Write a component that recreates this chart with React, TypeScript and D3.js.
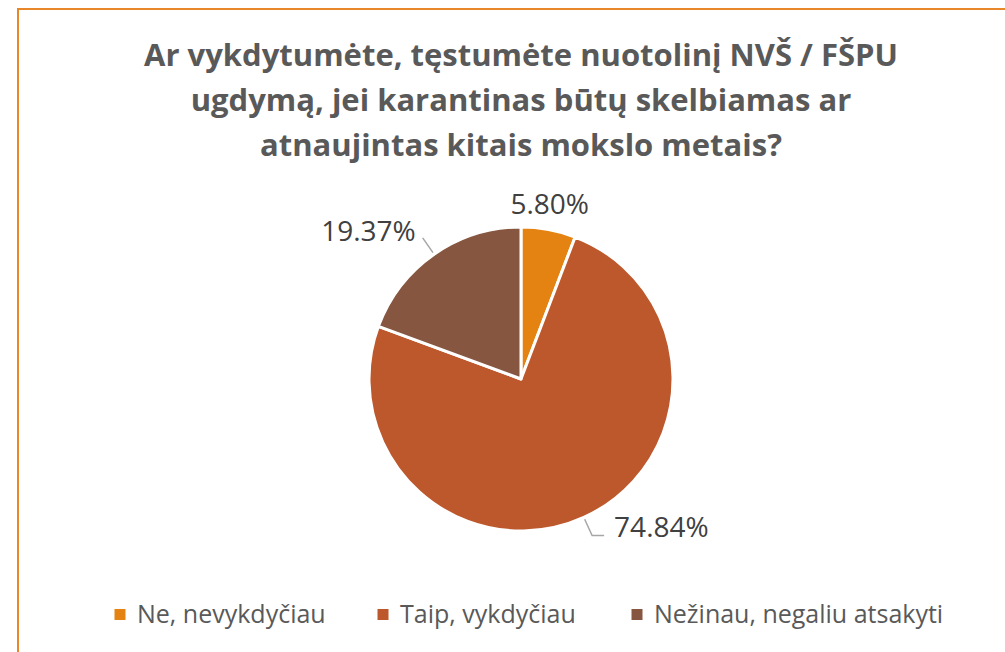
import React from 'react';
import * as d3 from 'd3';

const categories = ['Ne, nevykdyčiau', 'Taip, vykdyčiau', 'Nežinau, negaliu atsakyti'];
const shares = [5.80, 74.84, 19.37];
const colors = ['#E48312', '#BD582C', '#865640'];
const titleLines = [
  'Ar vykdytumėte, tęstumėte nuotolinį NVŠ / FŠPU',
  'ugdymą, jei karantinas būtų skelbiamas ar',
  'atnaujintas kitais mokslo metais?'
];

// label placement around the pie (angle offset in rad from the slice middle, distance from centre)
const labelLayout = [
  { da: -0.02, dist: 178 },
  { da: 0.0, dist: 212 },
  { da: -0.38, dist: 210 }
];

const width = 1005;
const height = 652;
const cx = 521;
const cy = 379;
const radius = 152;
const font = '"Open Sans", sans-serif';
const textColor = '#595959';

const App = () => {
  const pie = d3.pie<number>().sort(null).value(d => d);
  const arcs = pie(shares);
  const arc = d3.arc<d3.PieArcDatum<number>>().innerRadius(0).outerRadius(radius);

  const polar = (a: number, r: number) => [Math.sin(a) * r, -Math.cos(a) * r];

  // legend layout
  const legendX = d3.scaleOrdinal<string, number>().domain(categories).range([120, 383, 637]);

  return (
    <svg width={width} height={height} style={{ position: 'absolute', left: 0, top: 0, background: '#fff' }}>
      <rect x={18} y={9} width={1010} height={670} fill='#fff' stroke='#E8862A' strokeWidth={2} />
      {titleLines.map((t, i) =>
        <text key={`title-${i}`} x={cx} y={66 + i * 45} textAnchor='middle' fontFamily={font}
          fontWeight='bold' fontSize={31} fill={textColor}>{t}</text>
      )}
      <g transform={`translate(${cx}, ${cy})`}>
        {arcs.map((a, i) =>
          <path key={`slice-${i}`} d={arc(a) || ''} fill={colors[i]} stroke='#fff' strokeWidth={3} strokeLinejoin='round' />
        )}
        {arcs.map((a, i) => {
          const mid = (a.startAngle + a.endAngle) / 2;
          const lay = labelLayout[i];
          const [lx, ly] = polar(mid + lay.da, lay.dist);
          const label = `${shares[i].toFixed(2)}%`;
          if (i === 0) {
            return <text key={`lab-${i}`} x={lx} y={ly} textAnchor='middle' dominantBaseline='central'
              fontFamily={font} fontSize={28} fill='#404040'>{label}</text>;
          }
          const [p0x, p0y] = polar(mid, radius + 2);
          const [p1x, p1y] = polar(mid, radius + 20);
          const right = Math.sin(mid) > 0;
          const p2x = right ? p1x + 12 : p1x;
          if (right) {
            return (
              <g key={`lab-${i}`}>
                <polyline points={`${p0x},${p0y} ${p1x},${p1y} ${p2x},${p1y}`} fill='none' stroke='#A6A6A6' strokeWidth={1.5} />
                <text x={p2x + 10} y={p1y + 1} textAnchor='start'
                  fontFamily={font} fontSize={28} fill='#404040'>{label}</text>
              </g>
            );
          }
          return (
            <g key={`lab-${i}`}>
              <polyline points={`${p0x},${p0y} ${p1x},${p1y}`} fill='none' stroke='#A6A6A6' strokeWidth={1.5} />
              <text x={p1x - 7} y={p1y - 8} textAnchor='end' dominantBaseline='central'
                fontFamily={font} fontSize={28} fill='#404040'>{label}</text>
            </g>
          );
        })}
      </g>
      {categories.map((c, i) =>
        <g key={`leg-${i}`} transform={`translate(${legendX(c)}, 614.5)`}>
          <rect x={-5.5} y={-5.5} width={11} height={11} fill={colors[i]} />
          <text x={17} y={8.5} fontFamily={font} fontSize={25} fill={textColor}>{c}</text>
        </g>
      )}
    </svg>
  );
};

export default App;
